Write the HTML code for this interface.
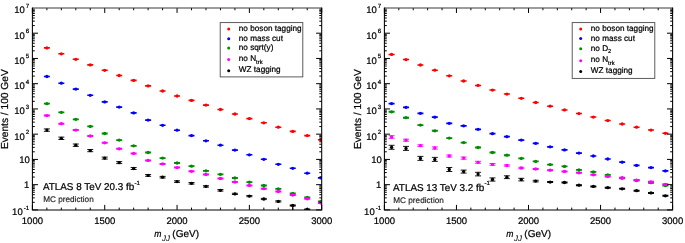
<!DOCTYPE html><html><head><meta charset="utf-8"><style>html,body{margin:0;padding:0;background:#fff;}svg{display:block;filter:blur(0.35px);}text{text-rendering:geometricPrecision;font-family:"Liberation Sans",sans-serif;fill:#000;stroke:#000;stroke-width:0.22px;}</style></head><body>
<svg width="685" height="243" viewBox="0 0 685 243">
<rect width="685" height="243" fill="#fff"/>
<clipPath id="clip0"><rect x="32.4" y="7.95" width="289.3" height="201.95000000000002"/></clipPath>
<g clip-path="url(#clip0)">
<line x1="43.87" y1="47.90" x2="49.87" y2="47.90" stroke="#ff0000" stroke-width="1.60"/><circle cx="46.87" cy="47.90" r="1.65" fill="#ff0000"/>
<line x1="58.33" y1="53.80" x2="64.33" y2="53.80" stroke="#ff0000" stroke-width="1.60"/><circle cx="61.33" cy="53.80" r="1.65" fill="#ff0000"/>
<line x1="72.80" y1="59.30" x2="78.80" y2="59.30" stroke="#ff0000" stroke-width="1.60"/><circle cx="75.80" cy="59.30" r="1.65" fill="#ff0000"/>
<line x1="87.26" y1="64.90" x2="93.26" y2="64.90" stroke="#ff0000" stroke-width="1.60"/><circle cx="90.26" cy="64.90" r="1.65" fill="#ff0000"/>
<line x1="101.72" y1="70.30" x2="107.72" y2="70.30" stroke="#ff0000" stroke-width="1.60"/><circle cx="104.72" cy="70.30" r="1.65" fill="#ff0000"/>
<line x1="116.19" y1="75.50" x2="122.19" y2="75.50" stroke="#ff0000" stroke-width="1.60"/><circle cx="119.19" cy="75.50" r="1.65" fill="#ff0000"/>
<line x1="130.66" y1="80.40" x2="136.66" y2="80.40" stroke="#ff0000" stroke-width="1.60"/><circle cx="133.66" cy="80.40" r="1.65" fill="#ff0000"/>
<line x1="145.12" y1="85.90" x2="151.12" y2="85.90" stroke="#ff0000" stroke-width="1.60"/><circle cx="148.12" cy="85.90" r="1.65" fill="#ff0000"/>
<line x1="159.59" y1="91.00" x2="165.59" y2="91.00" stroke="#ff0000" stroke-width="1.60"/><circle cx="162.59" cy="91.00" r="1.65" fill="#ff0000"/>
<line x1="174.05" y1="96.00" x2="180.05" y2="96.00" stroke="#ff0000" stroke-width="1.60"/><circle cx="177.05" cy="96.00" r="1.65" fill="#ff0000"/>
<line x1="188.52" y1="100.40" x2="194.52" y2="100.40" stroke="#ff0000" stroke-width="1.60"/><circle cx="191.52" cy="100.40" r="1.65" fill="#ff0000"/>
<line x1="202.98" y1="105.10" x2="208.98" y2="105.10" stroke="#ff0000" stroke-width="1.60"/><circle cx="205.98" cy="105.10" r="1.65" fill="#ff0000"/>
<line x1="217.45" y1="109.50" x2="223.45" y2="109.50" stroke="#ff0000" stroke-width="1.60"/><circle cx="220.45" cy="109.50" r="1.65" fill="#ff0000"/>
<line x1="231.91" y1="114.00" x2="237.91" y2="114.00" stroke="#ff0000" stroke-width="1.60"/><circle cx="234.91" cy="114.00" r="1.65" fill="#ff0000"/>
<line x1="246.38" y1="118.60" x2="252.38" y2="118.60" stroke="#ff0000" stroke-width="1.60"/><circle cx="249.38" cy="118.60" r="1.65" fill="#ff0000"/>
<line x1="260.84" y1="122.80" x2="266.84" y2="122.80" stroke="#ff0000" stroke-width="1.60"/><circle cx="263.84" cy="122.80" r="1.65" fill="#ff0000"/>
<line x1="275.31" y1="127.20" x2="281.31" y2="127.20" stroke="#ff0000" stroke-width="1.60"/><circle cx="278.31" cy="127.20" r="1.65" fill="#ff0000"/>
<line x1="289.77" y1="131.40" x2="295.77" y2="131.40" stroke="#ff0000" stroke-width="1.60"/><circle cx="292.77" cy="131.40" r="1.65" fill="#ff0000"/>
<line x1="304.23" y1="135.60" x2="310.23" y2="135.60" stroke="#ff0000" stroke-width="1.60"/><circle cx="307.23" cy="135.60" r="1.65" fill="#ff0000"/>
<line x1="317.90" y1="139.80" x2="323.90" y2="139.80" stroke="#ff0000" stroke-width="1.60"/><circle cx="320.90" cy="139.80" r="1.65" fill="#ff0000"/>
<line x1="43.87" y1="76.50" x2="49.87" y2="76.50" stroke="#0000ff" stroke-width="1.60"/><circle cx="46.87" cy="76.50" r="1.65" fill="#0000ff"/>
<line x1="58.33" y1="83.20" x2="64.33" y2="83.20" stroke="#0000ff" stroke-width="1.60"/><circle cx="61.33" cy="83.20" r="1.65" fill="#0000ff"/>
<line x1="72.80" y1="89.10" x2="78.80" y2="89.10" stroke="#0000ff" stroke-width="1.60"/><circle cx="75.80" cy="89.10" r="1.65" fill="#0000ff"/>
<line x1="87.26" y1="95.30" x2="93.26" y2="95.30" stroke="#0000ff" stroke-width="1.60"/><circle cx="90.26" cy="95.30" r="1.65" fill="#0000ff"/>
<line x1="101.72" y1="101.90" x2="107.72" y2="101.90" stroke="#0000ff" stroke-width="1.60"/><circle cx="104.72" cy="101.90" r="1.65" fill="#0000ff"/>
<line x1="116.19" y1="107.10" x2="122.19" y2="107.10" stroke="#0000ff" stroke-width="1.60"/><circle cx="119.19" cy="107.10" r="1.65" fill="#0000ff"/>
<line x1="130.66" y1="112.90" x2="136.66" y2="112.90" stroke="#0000ff" stroke-width="1.60"/><circle cx="133.66" cy="112.90" r="1.65" fill="#0000ff"/>
<line x1="145.12" y1="120.10" x2="151.12" y2="120.10" stroke="#0000ff" stroke-width="1.60"/><circle cx="148.12" cy="120.10" r="1.65" fill="#0000ff"/>
<line x1="159.59" y1="125.30" x2="165.59" y2="125.30" stroke="#0000ff" stroke-width="1.60"/><circle cx="162.59" cy="125.30" r="1.65" fill="#0000ff"/>
<line x1="174.05" y1="130.20" x2="180.05" y2="130.20" stroke="#0000ff" stroke-width="1.60"/><circle cx="177.05" cy="130.20" r="1.65" fill="#0000ff"/>
<line x1="188.52" y1="135.60" x2="194.52" y2="135.60" stroke="#0000ff" stroke-width="1.60"/><circle cx="191.52" cy="135.60" r="1.65" fill="#0000ff"/>
<line x1="202.98" y1="140.80" x2="208.98" y2="140.80" stroke="#0000ff" stroke-width="1.60"/><circle cx="205.98" cy="140.80" r="1.65" fill="#0000ff"/>
<line x1="217.45" y1="145.20" x2="223.45" y2="145.20" stroke="#0000ff" stroke-width="1.60"/><circle cx="220.45" cy="145.20" r="1.65" fill="#0000ff"/>
<line x1="231.91" y1="150.10" x2="237.91" y2="150.10" stroke="#0000ff" stroke-width="1.60"/><circle cx="234.91" cy="150.10" r="1.65" fill="#0000ff"/>
<line x1="246.38" y1="154.80" x2="252.38" y2="154.80" stroke="#0000ff" stroke-width="1.60"/><circle cx="249.38" cy="154.80" r="1.65" fill="#0000ff"/>
<line x1="260.84" y1="159.30" x2="266.84" y2="159.30" stroke="#0000ff" stroke-width="1.60"/><circle cx="263.84" cy="159.30" r="1.65" fill="#0000ff"/>
<line x1="275.31" y1="164.30" x2="281.31" y2="164.30" stroke="#0000ff" stroke-width="1.60"/><circle cx="278.31" cy="164.30" r="1.65" fill="#0000ff"/>
<line x1="289.77" y1="168.30" x2="295.77" y2="168.30" stroke="#0000ff" stroke-width="1.60"/><circle cx="292.77" cy="168.30" r="1.65" fill="#0000ff"/>
<line x1="304.23" y1="173.20" x2="310.23" y2="173.20" stroke="#0000ff" stroke-width="1.60"/><circle cx="307.23" cy="173.20" r="1.65" fill="#0000ff"/>
<line x1="317.90" y1="177.90" x2="323.90" y2="177.90" stroke="#0000ff" stroke-width="1.60"/><circle cx="320.90" cy="177.90" r="1.65" fill="#0000ff"/>
<line x1="43.87" y1="103.70" x2="49.87" y2="103.70" stroke="#008c00" stroke-width="1.80"/><circle cx="46.87" cy="103.70" r="1.65" fill="#008c00"/>
<line x1="58.33" y1="112.30" x2="64.33" y2="112.30" stroke="#008c00" stroke-width="1.80"/><circle cx="61.33" cy="112.30" r="1.65" fill="#008c00"/>
<line x1="72.80" y1="119.30" x2="78.80" y2="119.30" stroke="#008c00" stroke-width="1.80"/><circle cx="75.80" cy="119.30" r="1.65" fill="#008c00"/>
<line x1="87.26" y1="126.40" x2="93.26" y2="126.40" stroke="#008c00" stroke-width="1.80"/><circle cx="90.26" cy="126.40" r="1.65" fill="#008c00"/>
<line x1="101.72" y1="133.50" x2="107.72" y2="133.50" stroke="#008c00" stroke-width="1.80"/><circle cx="104.72" cy="133.50" r="1.65" fill="#008c00"/>
<line x1="116.19" y1="140.10" x2="122.19" y2="140.10" stroke="#008c00" stroke-width="1.80"/><circle cx="119.19" cy="140.10" r="1.65" fill="#008c00"/>
<line x1="130.66" y1="145.80" x2="136.66" y2="145.80" stroke="#008c00" stroke-width="1.80"/><circle cx="133.66" cy="145.80" r="1.65" fill="#008c00"/>
<line x1="145.12" y1="152.50" x2="151.12" y2="152.50" stroke="#008c00" stroke-width="1.80"/><circle cx="148.12" cy="152.50" r="1.65" fill="#008c00"/>
<line x1="159.59" y1="158.10" x2="165.59" y2="158.10" stroke="#008c00" stroke-width="1.80"/><circle cx="162.59" cy="158.10" r="1.65" fill="#008c00"/>
<line x1="174.05" y1="163.00" x2="180.05" y2="163.00" stroke="#008c00" stroke-width="1.80"/><circle cx="177.05" cy="163.00" r="1.65" fill="#008c00"/>
<line x1="188.52" y1="166.20" x2="194.52" y2="166.20" stroke="#008c00" stroke-width="1.80"/><circle cx="191.52" cy="166.20" r="1.65" fill="#008c00"/>
<line x1="202.98" y1="170.80" x2="208.98" y2="170.80" stroke="#008c00" stroke-width="1.80"/><circle cx="205.98" cy="170.80" r="1.65" fill="#008c00"/>
<line x1="217.45" y1="174.30" x2="223.45" y2="174.30" stroke="#008c00" stroke-width="1.80"/><circle cx="220.45" cy="174.30" r="1.65" fill="#008c00"/>
<line x1="231.91" y1="178.00" x2="237.91" y2="178.00" stroke="#008c00" stroke-width="1.80"/><circle cx="234.91" cy="178.00" r="1.65" fill="#008c00"/>
<line x1="246.38" y1="182.20" x2="252.38" y2="182.20" stroke="#008c00" stroke-width="1.80"/><circle cx="249.38" cy="182.20" r="1.65" fill="#008c00"/>
<line x1="260.84" y1="185.50" x2="266.84" y2="185.50" stroke="#008c00" stroke-width="1.80"/><circle cx="263.84" cy="185.50" r="1.65" fill="#008c00"/>
<line x1="275.31" y1="188.90" x2="281.31" y2="188.90" stroke="#008c00" stroke-width="1.80"/><circle cx="278.31" cy="188.90" r="1.65" fill="#008c00"/>
<line x1="289.77" y1="193.40" x2="295.77" y2="193.40" stroke="#008c00" stroke-width="1.80"/><circle cx="292.77" cy="193.40" r="1.65" fill="#008c00"/>
<line x1="304.23" y1="197.30" x2="310.23" y2="197.30" stroke="#008c00" stroke-width="1.80"/><circle cx="307.23" cy="197.30" r="1.65" fill="#008c00"/>
<line x1="317.90" y1="201.50" x2="323.90" y2="201.50" stroke="#008c00" stroke-width="1.80"/><circle cx="320.90" cy="201.50" r="1.65" fill="#008c00"/>
<line x1="43.87" y1="115.60" x2="49.87" y2="115.60" stroke="#ff00ff" stroke-width="2.00"/><circle cx="46.87" cy="115.60" r="1.65" fill="#ff00ff"/>
<line x1="58.33" y1="123.70" x2="64.33" y2="123.70" stroke="#ff00ff" stroke-width="2.00"/><circle cx="61.33" cy="123.70" r="1.65" fill="#ff00ff"/>
<line x1="72.80" y1="130.10" x2="78.80" y2="130.10" stroke="#ff00ff" stroke-width="2.00"/><circle cx="75.80" cy="130.10" r="1.65" fill="#ff00ff"/>
<line x1="87.26" y1="136.00" x2="93.26" y2="136.00" stroke="#ff00ff" stroke-width="2.00"/><circle cx="90.26" cy="136.00" r="1.65" fill="#ff00ff"/>
<line x1="101.72" y1="142.80" x2="107.72" y2="142.80" stroke="#ff00ff" stroke-width="2.00"/><circle cx="104.72" cy="142.80" r="1.65" fill="#ff00ff"/>
<line x1="116.19" y1="148.80" x2="122.19" y2="148.80" stroke="#ff00ff" stroke-width="2.00"/><circle cx="119.19" cy="148.80" r="1.65" fill="#ff00ff"/>
<line x1="130.66" y1="153.40" x2="136.66" y2="153.40" stroke="#ff00ff" stroke-width="2.00"/><circle cx="133.66" cy="153.40" r="1.65" fill="#ff00ff"/>
<line x1="145.12" y1="160.40" x2="151.12" y2="160.40" stroke="#ff00ff" stroke-width="2.00"/><circle cx="148.12" cy="160.40" r="1.65" fill="#ff00ff"/>
<line x1="159.59" y1="163.90" x2="165.59" y2="163.90" stroke="#ff00ff" stroke-width="2.00"/><circle cx="162.59" cy="163.90" r="1.65" fill="#ff00ff"/>
<line x1="174.05" y1="167.60" x2="180.05" y2="167.60" stroke="#ff00ff" stroke-width="2.00"/><circle cx="177.05" cy="167.60" r="1.65" fill="#ff00ff"/>
<line x1="188.52" y1="171.30" x2="194.52" y2="171.30" stroke="#ff00ff" stroke-width="2.00"/><circle cx="191.52" cy="171.30" r="1.65" fill="#ff00ff"/>
<line x1="202.98" y1="174.50" x2="208.98" y2="174.50" stroke="#ff00ff" stroke-width="2.00"/><circle cx="205.98" cy="174.50" r="1.65" fill="#ff00ff"/>
<line x1="217.45" y1="178.50" x2="223.45" y2="178.50" stroke="#ff00ff" stroke-width="2.00"/><circle cx="220.45" cy="178.50" r="1.65" fill="#ff00ff"/>
<line x1="231.91" y1="182.00" x2="237.91" y2="182.00" stroke="#ff00ff" stroke-width="2.00"/><circle cx="234.91" cy="182.00" r="1.65" fill="#ff00ff"/>
<line x1="246.38" y1="185.40" x2="252.38" y2="185.40" stroke="#ff00ff" stroke-width="2.00"/><circle cx="249.38" cy="185.40" r="1.65" fill="#ff00ff"/>
<line x1="260.84" y1="188.70" x2="266.84" y2="188.70" stroke="#ff00ff" stroke-width="2.00"/><circle cx="263.84" cy="188.70" r="1.65" fill="#ff00ff"/>
<line x1="275.31" y1="191.50" x2="281.31" y2="191.50" stroke="#ff00ff" stroke-width="2.00"/><circle cx="278.31" cy="191.50" r="1.65" fill="#ff00ff"/>
<line x1="289.77" y1="195.00" x2="295.77" y2="195.00" stroke="#ff00ff" stroke-width="2.00"/><circle cx="292.77" cy="195.00" r="1.65" fill="#ff00ff"/>
<line x1="304.23" y1="198.80" x2="310.23" y2="198.80" stroke="#ff00ff" stroke-width="2.00"/><circle cx="307.23" cy="198.80" r="1.65" fill="#ff00ff"/>
<line x1="317.90" y1="203.10" x2="323.90" y2="203.10" stroke="#ff00ff" stroke-width="2.00"/><circle cx="320.90" cy="203.10" r="1.65" fill="#ff00ff"/>
<path d="M43.87 128.90H49.87M43.87 131.30H49.87M46.87 128.90V131.30" stroke="#000000" stroke-width="0.9" fill="none"/><line x1="46.87" y1="129.30" x2="46.87" y2="130.90" stroke="#000000" stroke-width="1.6"/><circle cx="46.87" cy="130.10" r="1.65" fill="#000000"/>
<path d="M58.33 137.10H64.33M58.33 139.50H64.33M61.33 137.10V139.50" stroke="#000000" stroke-width="0.9" fill="none"/><line x1="61.33" y1="137.50" x2="61.33" y2="139.10" stroke="#000000" stroke-width="1.6"/><circle cx="61.33" cy="138.30" r="1.65" fill="#000000"/>
<path d="M72.80 144.00H78.80M72.80 146.40H78.80M75.80 144.00V146.40" stroke="#000000" stroke-width="0.9" fill="none"/><line x1="75.80" y1="144.40" x2="75.80" y2="146.00" stroke="#000000" stroke-width="1.6"/><circle cx="75.80" cy="145.20" r="1.65" fill="#000000"/>
<path d="M87.26 149.50H93.26M87.26 151.70H93.26M90.26 149.50V151.70" stroke="#000000" stroke-width="0.9" fill="none"/><line x1="90.26" y1="149.90" x2="90.26" y2="151.30" stroke="#000000" stroke-width="1.6"/><circle cx="90.26" cy="150.60" r="1.65" fill="#000000"/>
<path d="M101.72 157.10H107.72M101.72 159.10H107.72M104.72 157.10V159.10" stroke="#000000" stroke-width="0.9" fill="none"/><line x1="104.72" y1="157.50" x2="104.72" y2="158.70" stroke="#000000" stroke-width="1.6"/><circle cx="104.72" cy="158.10" r="1.65" fill="#000000"/>
<path d="M116.19 161.60H122.19M116.19 163.60H122.19M119.19 161.60V163.60" stroke="#000000" stroke-width="0.9" fill="none"/><line x1="119.19" y1="162.00" x2="119.19" y2="163.20" stroke="#000000" stroke-width="1.6"/><circle cx="119.19" cy="162.60" r="1.65" fill="#000000"/>
<path d="M130.66 167.50H136.66M130.66 169.50H136.66M133.66 167.50V169.50" stroke="#000000" stroke-width="0.9" fill="none"/><line x1="133.66" y1="167.90" x2="133.66" y2="169.10" stroke="#000000" stroke-width="1.6"/><circle cx="133.66" cy="168.50" r="1.65" fill="#000000"/>
<path d="M145.12 174.50H151.12M145.12 176.30H151.12M148.12 174.50V176.30" stroke="#000000" stroke-width="0.9" fill="none"/><line x1="148.12" y1="174.90" x2="148.12" y2="175.90" stroke="#000000" stroke-width="1.6"/><circle cx="148.12" cy="175.40" r="1.65" fill="#000000"/>
<path d="M159.59 176.40H165.59M159.59 178.00H165.59M162.59 176.40V178.00" stroke="#000000" stroke-width="0.9" fill="none"/><line x1="162.59" y1="176.80" x2="162.59" y2="177.60" stroke="#000000" stroke-width="1.6"/><circle cx="162.59" cy="177.20" r="1.65" fill="#000000"/>
<path d="M174.05 180.80H180.05M174.05 182.40H180.05M177.05 180.80V182.40" stroke="#000000" stroke-width="0.9" fill="none"/><line x1="177.05" y1="181.20" x2="177.05" y2="182.00" stroke="#000000" stroke-width="1.6"/><circle cx="177.05" cy="181.60" r="1.65" fill="#000000"/>
<path d="M188.52 182.50H194.52M188.52 184.10H194.52M191.52 182.50V184.10" stroke="#000000" stroke-width="0.9" fill="none"/><line x1="191.52" y1="182.90" x2="191.52" y2="183.70" stroke="#000000" stroke-width="1.6"/><circle cx="191.52" cy="183.30" r="1.65" fill="#000000"/>
<path d="M202.98 185.70H208.98M202.98 187.10H208.98M205.98 185.70V187.10" stroke="#000000" stroke-width="0.9" fill="none"/><line x1="205.98" y1="186.10" x2="205.98" y2="186.70" stroke="#000000" stroke-width="1.6"/><circle cx="205.98" cy="186.40" r="1.65" fill="#000000"/>
<path d="M217.45 189.50H223.45M217.45 191.10H223.45M220.45 189.50V191.10" stroke="#000000" stroke-width="0.9" fill="none"/><line x1="220.45" y1="189.90" x2="220.45" y2="190.70" stroke="#000000" stroke-width="1.6"/><circle cx="220.45" cy="190.30" r="1.65" fill="#000000"/>
<path d="M231.91 193.30H237.91M231.91 194.50H237.91M234.91 193.30V194.50" stroke="#000000" stroke-width="0.9" fill="none"/><line x1="234.91" y1="193.70" x2="234.91" y2="194.10" stroke="#000000" stroke-width="1.6"/><circle cx="234.91" cy="193.90" r="1.65" fill="#000000"/>
<path d="M246.38 195.50H252.38M246.38 196.70H252.38M249.38 195.50V196.70" stroke="#000000" stroke-width="0.9" fill="none"/><line x1="249.38" y1="195.90" x2="249.38" y2="196.30" stroke="#000000" stroke-width="1.6"/><circle cx="249.38" cy="196.10" r="1.65" fill="#000000"/>
<path d="M260.84 198.40H266.84M260.84 199.60H266.84M263.84 198.40V199.60" stroke="#000000" stroke-width="0.9" fill="none"/><line x1="263.84" y1="198.80" x2="263.84" y2="199.20" stroke="#000000" stroke-width="1.6"/><circle cx="263.84" cy="199.00" r="1.65" fill="#000000"/>
<path d="M275.31 200.80H281.31M275.31 202.00H281.31M278.31 200.80V202.00" stroke="#000000" stroke-width="0.9" fill="none"/><line x1="278.31" y1="201.20" x2="278.31" y2="201.60" stroke="#000000" stroke-width="1.6"/><circle cx="278.31" cy="201.40" r="1.65" fill="#000000"/>
<line x1="289.77" y1="205.50" x2="295.77" y2="205.50" stroke="#000000" stroke-width="2.00"/><circle cx="292.77" cy="205.50" r="1.65" fill="#000000"/>
<line x1="292.77" y1="205.50" x2="292.77" y2="212" stroke="#000" stroke-width="1.1"/>
<line x1="304.23" y1="209.50" x2="310.23" y2="209.50" stroke="#000000" stroke-width="2.00"/><circle cx="307.23" cy="209.50" r="1.65" fill="#000000"/>
</g>
<line x1="32.40" y1="209.9" x2="32.40" y2="204.9" stroke="#000" stroke-width="1"/>
<line x1="32.40" y1="7.95" x2="32.40" y2="12.95" stroke="#000" stroke-width="1"/>
<line x1="46.87" y1="209.9" x2="46.87" y2="207.6" stroke="#000" stroke-width="1"/>
<line x1="46.87" y1="7.95" x2="46.87" y2="10.25" stroke="#000" stroke-width="1"/>
<line x1="61.33" y1="209.9" x2="61.33" y2="207.6" stroke="#000" stroke-width="1"/>
<line x1="61.33" y1="7.95" x2="61.33" y2="10.25" stroke="#000" stroke-width="1"/>
<line x1="75.80" y1="209.9" x2="75.80" y2="207.6" stroke="#000" stroke-width="1"/>
<line x1="75.80" y1="7.95" x2="75.80" y2="10.25" stroke="#000" stroke-width="1"/>
<line x1="90.26" y1="209.9" x2="90.26" y2="207.6" stroke="#000" stroke-width="1"/>
<line x1="90.26" y1="7.95" x2="90.26" y2="10.25" stroke="#000" stroke-width="1"/>
<line x1="104.72" y1="209.9" x2="104.72" y2="204.9" stroke="#000" stroke-width="1"/>
<line x1="104.72" y1="7.95" x2="104.72" y2="12.95" stroke="#000" stroke-width="1"/>
<line x1="119.19" y1="209.9" x2="119.19" y2="207.6" stroke="#000" stroke-width="1"/>
<line x1="119.19" y1="7.95" x2="119.19" y2="10.25" stroke="#000" stroke-width="1"/>
<line x1="133.66" y1="209.9" x2="133.66" y2="207.6" stroke="#000" stroke-width="1"/>
<line x1="133.66" y1="7.95" x2="133.66" y2="10.25" stroke="#000" stroke-width="1"/>
<line x1="148.12" y1="209.9" x2="148.12" y2="207.6" stroke="#000" stroke-width="1"/>
<line x1="148.12" y1="7.95" x2="148.12" y2="10.25" stroke="#000" stroke-width="1"/>
<line x1="162.59" y1="209.9" x2="162.59" y2="207.6" stroke="#000" stroke-width="1"/>
<line x1="162.59" y1="7.95" x2="162.59" y2="10.25" stroke="#000" stroke-width="1"/>
<line x1="177.05" y1="209.9" x2="177.05" y2="204.9" stroke="#000" stroke-width="1"/>
<line x1="177.05" y1="7.95" x2="177.05" y2="12.95" stroke="#000" stroke-width="1"/>
<line x1="191.52" y1="209.9" x2="191.52" y2="207.6" stroke="#000" stroke-width="1"/>
<line x1="191.52" y1="7.95" x2="191.52" y2="10.25" stroke="#000" stroke-width="1"/>
<line x1="205.98" y1="209.9" x2="205.98" y2="207.6" stroke="#000" stroke-width="1"/>
<line x1="205.98" y1="7.95" x2="205.98" y2="10.25" stroke="#000" stroke-width="1"/>
<line x1="220.45" y1="209.9" x2="220.45" y2="207.6" stroke="#000" stroke-width="1"/>
<line x1="220.45" y1="7.95" x2="220.45" y2="10.25" stroke="#000" stroke-width="1"/>
<line x1="234.91" y1="209.9" x2="234.91" y2="207.6" stroke="#000" stroke-width="1"/>
<line x1="234.91" y1="7.95" x2="234.91" y2="10.25" stroke="#000" stroke-width="1"/>
<line x1="249.38" y1="209.9" x2="249.38" y2="204.9" stroke="#000" stroke-width="1"/>
<line x1="249.38" y1="7.95" x2="249.38" y2="12.95" stroke="#000" stroke-width="1"/>
<line x1="263.84" y1="209.9" x2="263.84" y2="207.6" stroke="#000" stroke-width="1"/>
<line x1="263.84" y1="7.95" x2="263.84" y2="10.25" stroke="#000" stroke-width="1"/>
<line x1="278.31" y1="209.9" x2="278.31" y2="207.6" stroke="#000" stroke-width="1"/>
<line x1="278.31" y1="7.95" x2="278.31" y2="10.25" stroke="#000" stroke-width="1"/>
<line x1="292.77" y1="209.9" x2="292.77" y2="207.6" stroke="#000" stroke-width="1"/>
<line x1="292.77" y1="7.95" x2="292.77" y2="10.25" stroke="#000" stroke-width="1"/>
<line x1="307.23" y1="209.9" x2="307.23" y2="207.6" stroke="#000" stroke-width="1"/>
<line x1="307.23" y1="7.95" x2="307.23" y2="10.25" stroke="#000" stroke-width="1"/>
<line x1="321.70" y1="209.9" x2="321.70" y2="204.9" stroke="#000" stroke-width="1"/>
<line x1="321.70" y1="7.95" x2="321.70" y2="12.95" stroke="#000" stroke-width="1"/>
<line x1="32.4" y1="209.90" x2="38.0" y2="209.90" stroke="#000" stroke-width="1"/>
<line x1="321.7" y1="209.90" x2="316.09999999999997" y2="209.90" stroke="#000" stroke-width="1"/>
<line x1="32.4" y1="202.30" x2="34.8" y2="202.30" stroke="#000" stroke-width="1"/>
<line x1="321.7" y1="202.30" x2="319.3" y2="202.30" stroke="#000" stroke-width="1"/>
<line x1="32.4" y1="197.86" x2="34.8" y2="197.86" stroke="#000" stroke-width="1"/>
<line x1="321.7" y1="197.86" x2="319.3" y2="197.86" stroke="#000" stroke-width="1"/>
<line x1="32.4" y1="194.70" x2="34.8" y2="194.70" stroke="#000" stroke-width="1"/>
<line x1="321.7" y1="194.70" x2="319.3" y2="194.70" stroke="#000" stroke-width="1"/>
<line x1="32.4" y1="192.26" x2="34.8" y2="192.26" stroke="#000" stroke-width="1"/>
<line x1="321.7" y1="192.26" x2="319.3" y2="192.26" stroke="#000" stroke-width="1"/>
<line x1="32.4" y1="190.26" x2="34.8" y2="190.26" stroke="#000" stroke-width="1"/>
<line x1="321.7" y1="190.26" x2="319.3" y2="190.26" stroke="#000" stroke-width="1"/>
<line x1="32.4" y1="188.57" x2="34.8" y2="188.57" stroke="#000" stroke-width="1"/>
<line x1="321.7" y1="188.57" x2="319.3" y2="188.57" stroke="#000" stroke-width="1"/>
<line x1="32.4" y1="187.10" x2="34.8" y2="187.10" stroke="#000" stroke-width="1"/>
<line x1="321.7" y1="187.10" x2="319.3" y2="187.10" stroke="#000" stroke-width="1"/>
<line x1="32.4" y1="185.81" x2="34.8" y2="185.81" stroke="#000" stroke-width="1"/>
<line x1="321.7" y1="185.81" x2="319.3" y2="185.81" stroke="#000" stroke-width="1"/>
<line x1="32.4" y1="184.66" x2="38.0" y2="184.66" stroke="#000" stroke-width="1"/>
<line x1="321.7" y1="184.66" x2="316.09999999999997" y2="184.66" stroke="#000" stroke-width="1"/>
<line x1="32.4" y1="177.06" x2="34.8" y2="177.06" stroke="#000" stroke-width="1"/>
<line x1="321.7" y1="177.06" x2="319.3" y2="177.06" stroke="#000" stroke-width="1"/>
<line x1="32.4" y1="172.61" x2="34.8" y2="172.61" stroke="#000" stroke-width="1"/>
<line x1="321.7" y1="172.61" x2="319.3" y2="172.61" stroke="#000" stroke-width="1"/>
<line x1="32.4" y1="169.46" x2="34.8" y2="169.46" stroke="#000" stroke-width="1"/>
<line x1="321.7" y1="169.46" x2="319.3" y2="169.46" stroke="#000" stroke-width="1"/>
<line x1="32.4" y1="167.01" x2="34.8" y2="167.01" stroke="#000" stroke-width="1"/>
<line x1="321.7" y1="167.01" x2="319.3" y2="167.01" stroke="#000" stroke-width="1"/>
<line x1="32.4" y1="165.01" x2="34.8" y2="165.01" stroke="#000" stroke-width="1"/>
<line x1="321.7" y1="165.01" x2="319.3" y2="165.01" stroke="#000" stroke-width="1"/>
<line x1="32.4" y1="163.32" x2="34.8" y2="163.32" stroke="#000" stroke-width="1"/>
<line x1="321.7" y1="163.32" x2="319.3" y2="163.32" stroke="#000" stroke-width="1"/>
<line x1="32.4" y1="161.86" x2="34.8" y2="161.86" stroke="#000" stroke-width="1"/>
<line x1="321.7" y1="161.86" x2="319.3" y2="161.86" stroke="#000" stroke-width="1"/>
<line x1="32.4" y1="160.57" x2="34.8" y2="160.57" stroke="#000" stroke-width="1"/>
<line x1="321.7" y1="160.57" x2="319.3" y2="160.57" stroke="#000" stroke-width="1"/>
<line x1="32.4" y1="159.41" x2="38.0" y2="159.41" stroke="#000" stroke-width="1"/>
<line x1="321.7" y1="159.41" x2="316.09999999999997" y2="159.41" stroke="#000" stroke-width="1"/>
<line x1="32.4" y1="151.81" x2="34.8" y2="151.81" stroke="#000" stroke-width="1"/>
<line x1="321.7" y1="151.81" x2="319.3" y2="151.81" stroke="#000" stroke-width="1"/>
<line x1="32.4" y1="147.37" x2="34.8" y2="147.37" stroke="#000" stroke-width="1"/>
<line x1="321.7" y1="147.37" x2="319.3" y2="147.37" stroke="#000" stroke-width="1"/>
<line x1="32.4" y1="144.21" x2="34.8" y2="144.21" stroke="#000" stroke-width="1"/>
<line x1="321.7" y1="144.21" x2="319.3" y2="144.21" stroke="#000" stroke-width="1"/>
<line x1="32.4" y1="141.77" x2="34.8" y2="141.77" stroke="#000" stroke-width="1"/>
<line x1="321.7" y1="141.77" x2="319.3" y2="141.77" stroke="#000" stroke-width="1"/>
<line x1="32.4" y1="139.77" x2="34.8" y2="139.77" stroke="#000" stroke-width="1"/>
<line x1="321.7" y1="139.77" x2="319.3" y2="139.77" stroke="#000" stroke-width="1"/>
<line x1="32.4" y1="138.08" x2="34.8" y2="138.08" stroke="#000" stroke-width="1"/>
<line x1="321.7" y1="138.08" x2="319.3" y2="138.08" stroke="#000" stroke-width="1"/>
<line x1="32.4" y1="136.62" x2="34.8" y2="136.62" stroke="#000" stroke-width="1"/>
<line x1="321.7" y1="136.62" x2="319.3" y2="136.62" stroke="#000" stroke-width="1"/>
<line x1="32.4" y1="135.32" x2="34.8" y2="135.32" stroke="#000" stroke-width="1"/>
<line x1="321.7" y1="135.32" x2="319.3" y2="135.32" stroke="#000" stroke-width="1"/>
<line x1="32.4" y1="134.17" x2="38.0" y2="134.17" stroke="#000" stroke-width="1"/>
<line x1="321.7" y1="134.17" x2="316.09999999999997" y2="134.17" stroke="#000" stroke-width="1"/>
<line x1="32.4" y1="126.57" x2="34.8" y2="126.57" stroke="#000" stroke-width="1"/>
<line x1="321.7" y1="126.57" x2="319.3" y2="126.57" stroke="#000" stroke-width="1"/>
<line x1="32.4" y1="122.12" x2="34.8" y2="122.12" stroke="#000" stroke-width="1"/>
<line x1="321.7" y1="122.12" x2="319.3" y2="122.12" stroke="#000" stroke-width="1"/>
<line x1="32.4" y1="118.97" x2="34.8" y2="118.97" stroke="#000" stroke-width="1"/>
<line x1="321.7" y1="118.97" x2="319.3" y2="118.97" stroke="#000" stroke-width="1"/>
<line x1="32.4" y1="116.52" x2="34.8" y2="116.52" stroke="#000" stroke-width="1"/>
<line x1="321.7" y1="116.52" x2="319.3" y2="116.52" stroke="#000" stroke-width="1"/>
<line x1="32.4" y1="114.53" x2="34.8" y2="114.53" stroke="#000" stroke-width="1"/>
<line x1="321.7" y1="114.53" x2="319.3" y2="114.53" stroke="#000" stroke-width="1"/>
<line x1="32.4" y1="112.84" x2="34.8" y2="112.84" stroke="#000" stroke-width="1"/>
<line x1="321.7" y1="112.84" x2="319.3" y2="112.84" stroke="#000" stroke-width="1"/>
<line x1="32.4" y1="111.37" x2="34.8" y2="111.37" stroke="#000" stroke-width="1"/>
<line x1="321.7" y1="111.37" x2="319.3" y2="111.37" stroke="#000" stroke-width="1"/>
<line x1="32.4" y1="110.08" x2="34.8" y2="110.08" stroke="#000" stroke-width="1"/>
<line x1="321.7" y1="110.08" x2="319.3" y2="110.08" stroke="#000" stroke-width="1"/>
<line x1="32.4" y1="108.93" x2="38.0" y2="108.93" stroke="#000" stroke-width="1"/>
<line x1="321.7" y1="108.93" x2="316.09999999999997" y2="108.93" stroke="#000" stroke-width="1"/>
<line x1="32.4" y1="101.33" x2="34.8" y2="101.33" stroke="#000" stroke-width="1"/>
<line x1="321.7" y1="101.33" x2="319.3" y2="101.33" stroke="#000" stroke-width="1"/>
<line x1="32.4" y1="96.88" x2="34.8" y2="96.88" stroke="#000" stroke-width="1"/>
<line x1="321.7" y1="96.88" x2="319.3" y2="96.88" stroke="#000" stroke-width="1"/>
<line x1="32.4" y1="93.73" x2="34.8" y2="93.73" stroke="#000" stroke-width="1"/>
<line x1="321.7" y1="93.73" x2="319.3" y2="93.73" stroke="#000" stroke-width="1"/>
<line x1="32.4" y1="91.28" x2="34.8" y2="91.28" stroke="#000" stroke-width="1"/>
<line x1="321.7" y1="91.28" x2="319.3" y2="91.28" stroke="#000" stroke-width="1"/>
<line x1="32.4" y1="89.28" x2="34.8" y2="89.28" stroke="#000" stroke-width="1"/>
<line x1="321.7" y1="89.28" x2="319.3" y2="89.28" stroke="#000" stroke-width="1"/>
<line x1="32.4" y1="87.59" x2="34.8" y2="87.59" stroke="#000" stroke-width="1"/>
<line x1="321.7" y1="87.59" x2="319.3" y2="87.59" stroke="#000" stroke-width="1"/>
<line x1="32.4" y1="86.13" x2="34.8" y2="86.13" stroke="#000" stroke-width="1"/>
<line x1="321.7" y1="86.13" x2="319.3" y2="86.13" stroke="#000" stroke-width="1"/>
<line x1="32.4" y1="84.84" x2="34.8" y2="84.84" stroke="#000" stroke-width="1"/>
<line x1="321.7" y1="84.84" x2="319.3" y2="84.84" stroke="#000" stroke-width="1"/>
<line x1="32.4" y1="83.68" x2="38.0" y2="83.68" stroke="#000" stroke-width="1"/>
<line x1="321.7" y1="83.68" x2="316.09999999999997" y2="83.68" stroke="#000" stroke-width="1"/>
<line x1="32.4" y1="76.08" x2="34.8" y2="76.08" stroke="#000" stroke-width="1"/>
<line x1="321.7" y1="76.08" x2="319.3" y2="76.08" stroke="#000" stroke-width="1"/>
<line x1="32.4" y1="71.64" x2="34.8" y2="71.64" stroke="#000" stroke-width="1"/>
<line x1="321.7" y1="71.64" x2="319.3" y2="71.64" stroke="#000" stroke-width="1"/>
<line x1="32.4" y1="68.48" x2="34.8" y2="68.48" stroke="#000" stroke-width="1"/>
<line x1="321.7" y1="68.48" x2="319.3" y2="68.48" stroke="#000" stroke-width="1"/>
<line x1="32.4" y1="66.04" x2="34.8" y2="66.04" stroke="#000" stroke-width="1"/>
<line x1="321.7" y1="66.04" x2="319.3" y2="66.04" stroke="#000" stroke-width="1"/>
<line x1="32.4" y1="64.04" x2="34.8" y2="64.04" stroke="#000" stroke-width="1"/>
<line x1="321.7" y1="64.04" x2="319.3" y2="64.04" stroke="#000" stroke-width="1"/>
<line x1="32.4" y1="62.35" x2="34.8" y2="62.35" stroke="#000" stroke-width="1"/>
<line x1="321.7" y1="62.35" x2="319.3" y2="62.35" stroke="#000" stroke-width="1"/>
<line x1="32.4" y1="60.88" x2="34.8" y2="60.88" stroke="#000" stroke-width="1"/>
<line x1="321.7" y1="60.88" x2="319.3" y2="60.88" stroke="#000" stroke-width="1"/>
<line x1="32.4" y1="59.59" x2="34.8" y2="59.59" stroke="#000" stroke-width="1"/>
<line x1="321.7" y1="59.59" x2="319.3" y2="59.59" stroke="#000" stroke-width="1"/>
<line x1="32.4" y1="58.44" x2="38.0" y2="58.44" stroke="#000" stroke-width="1"/>
<line x1="321.7" y1="58.44" x2="316.09999999999997" y2="58.44" stroke="#000" stroke-width="1"/>
<line x1="32.4" y1="50.84" x2="34.8" y2="50.84" stroke="#000" stroke-width="1"/>
<line x1="321.7" y1="50.84" x2="319.3" y2="50.84" stroke="#000" stroke-width="1"/>
<line x1="32.4" y1="46.39" x2="34.8" y2="46.39" stroke="#000" stroke-width="1"/>
<line x1="321.7" y1="46.39" x2="319.3" y2="46.39" stroke="#000" stroke-width="1"/>
<line x1="32.4" y1="43.24" x2="34.8" y2="43.24" stroke="#000" stroke-width="1"/>
<line x1="321.7" y1="43.24" x2="319.3" y2="43.24" stroke="#000" stroke-width="1"/>
<line x1="32.4" y1="40.79" x2="34.8" y2="40.79" stroke="#000" stroke-width="1"/>
<line x1="321.7" y1="40.79" x2="319.3" y2="40.79" stroke="#000" stroke-width="1"/>
<line x1="32.4" y1="38.79" x2="34.8" y2="38.79" stroke="#000" stroke-width="1"/>
<line x1="321.7" y1="38.79" x2="319.3" y2="38.79" stroke="#000" stroke-width="1"/>
<line x1="32.4" y1="37.10" x2="34.8" y2="37.10" stroke="#000" stroke-width="1"/>
<line x1="321.7" y1="37.10" x2="319.3" y2="37.10" stroke="#000" stroke-width="1"/>
<line x1="32.4" y1="35.64" x2="34.8" y2="35.64" stroke="#000" stroke-width="1"/>
<line x1="321.7" y1="35.64" x2="319.3" y2="35.64" stroke="#000" stroke-width="1"/>
<line x1="32.4" y1="34.35" x2="34.8" y2="34.35" stroke="#000" stroke-width="1"/>
<line x1="321.7" y1="34.35" x2="319.3" y2="34.35" stroke="#000" stroke-width="1"/>
<line x1="32.4" y1="33.19" x2="38.0" y2="33.19" stroke="#000" stroke-width="1"/>
<line x1="321.7" y1="33.19" x2="316.09999999999997" y2="33.19" stroke="#000" stroke-width="1"/>
<line x1="32.4" y1="25.59" x2="34.8" y2="25.59" stroke="#000" stroke-width="1"/>
<line x1="321.7" y1="25.59" x2="319.3" y2="25.59" stroke="#000" stroke-width="1"/>
<line x1="32.4" y1="21.15" x2="34.8" y2="21.15" stroke="#000" stroke-width="1"/>
<line x1="321.7" y1="21.15" x2="319.3" y2="21.15" stroke="#000" stroke-width="1"/>
<line x1="32.4" y1="18.00" x2="34.8" y2="18.00" stroke="#000" stroke-width="1"/>
<line x1="321.7" y1="18.00" x2="319.3" y2="18.00" stroke="#000" stroke-width="1"/>
<line x1="32.4" y1="15.55" x2="34.8" y2="15.55" stroke="#000" stroke-width="1"/>
<line x1="321.7" y1="15.55" x2="319.3" y2="15.55" stroke="#000" stroke-width="1"/>
<line x1="32.4" y1="13.55" x2="34.8" y2="13.55" stroke="#000" stroke-width="1"/>
<line x1="321.7" y1="13.55" x2="319.3" y2="13.55" stroke="#000" stroke-width="1"/>
<line x1="32.4" y1="11.86" x2="34.8" y2="11.86" stroke="#000" stroke-width="1"/>
<line x1="321.7" y1="11.86" x2="319.3" y2="11.86" stroke="#000" stroke-width="1"/>
<line x1="32.4" y1="10.40" x2="34.8" y2="10.40" stroke="#000" stroke-width="1"/>
<line x1="321.7" y1="10.40" x2="319.3" y2="10.40" stroke="#000" stroke-width="1"/>
<line x1="32.4" y1="9.11" x2="34.8" y2="9.11" stroke="#000" stroke-width="1"/>
<line x1="321.7" y1="9.11" x2="319.3" y2="9.11" stroke="#000" stroke-width="1"/>
<path d="M32.4 7.95H321.7" stroke="#3a3a3a" stroke-width="1.05" fill="none"/>
<path d="M32.4 209.9H321.7M32.4 7.45V210.4M321.7 7.45V210.4" stroke="#000" stroke-width="1.05" fill="none"/>
<text transform="translate(32.40,223.9) scale(1.0,1)" font-size="9.5" text-anchor="middle">1000</text>
<text transform="translate(104.72,223.9) scale(1.0,1)" font-size="9.5" text-anchor="middle">1500</text>
<text transform="translate(177.05,223.9) scale(1.0,1)" font-size="9.5" text-anchor="middle">2000</text>
<text transform="translate(249.38,223.9) scale(1.0,1)" font-size="9.5" text-anchor="middle">2500</text>
<text transform="translate(321.70,223.9) scale(1.0,1)" font-size="9.5" text-anchor="middle">3000</text>
<text transform="translate(29.20,215.40) scale(1.0,1)" font-size="9.5" text-anchor="end">10<tspan font-size="6.2" dy="-5.6" dx="1.0">-1</tspan></text>
<text transform="translate(29.20,187.96) scale(1.0,1)" font-size="9.5" text-anchor="end">1</text>
<text transform="translate(29.80,162.71) scale(1.0,1)" font-size="9.5" text-anchor="end">10</text>
<text transform="translate(29.20,139.67) scale(1.0,1)" font-size="9.5" text-anchor="end">10<tspan font-size="6.2" dy="-5.6" dx="1.0">2</tspan></text>
<text transform="translate(29.20,114.43) scale(1.0,1)" font-size="9.5" text-anchor="end">10<tspan font-size="6.2" dy="-5.6" dx="1.0">3</tspan></text>
<text transform="translate(29.20,89.18) scale(1.0,1)" font-size="9.5" text-anchor="end">10<tspan font-size="6.2" dy="-5.6" dx="1.0">4</tspan></text>
<text transform="translate(29.20,63.94) scale(1.0,1)" font-size="9.5" text-anchor="end">10<tspan font-size="6.2" dy="-5.6" dx="1.0">5</tspan></text>
<text transform="translate(29.20,38.69) scale(1.0,1)" font-size="9.5" text-anchor="end">10<tspan font-size="6.2" dy="-5.6" dx="1.0">6</tspan></text>
<text transform="translate(29.20,13.45) scale(1.0,1)" font-size="9.5" text-anchor="end">10<tspan font-size="6.2" dy="-5.6" dx="1.0">7</tspan></text>
<text transform="translate(8.0,109.2) rotate(-90)" font-size="10.2" text-anchor="middle">Events / 100 GeV</text>
<text transform="translate(154.2,237.1) scale(0.9,1)" font-size="9.6" font-style="italic">m</text>
<text x="161.9" y="241.0" font-size="8.0" font-style="italic" style="stroke-width:0.05px">JJ</text>
<text x="172.3" y="237.2" font-size="10">(GeV)</text>
<text x="42.9" y="189.9" font-size="9.9">ATLAS 8 TeV 20.3 fb<tspan font-size="6.0" dy="-5.4" dx="0.3">-1</tspan></text>
<text x="43.2" y="202.3" font-size="8.2" style="fill:#1a1a1a;stroke:#1a1a1a;stroke-width:0.15px">MC prediction</text>
<rect x="220.2" y="22.6" width="82.6" height="54.3" fill="#fff" stroke="#4a4a4a" stroke-width="0.9"/>
<circle cx="228.7" cy="29.0" r="1.5" fill="#ff0000"/>
<text x="238.8" y="31.4" font-size="8.2">no boson tagging</text>
<circle cx="228.7" cy="38.7" r="1.5" fill="#0000ff"/>
<text x="238.8" y="41.1" font-size="8.2">no mass cut</text>
<circle cx="228.7" cy="48.1" r="1.5" fill="#008c00"/>
<text x="238.8" y="50.2" font-size="8.2">no sqrt(y)</text>
<circle cx="228.7" cy="59.5" r="1.5" fill="#ff00ff"/>
<text x="238.8" y="61.0" font-size="8.2">no N<tspan font-size="5.8" dy="3.0">trk</tspan></text>
<circle cx="228.7" cy="70.8" r="1.5" fill="#000000"/>
<text x="238.8" y="72.4" font-size="8.2">WZ tagging</text>
<clipPath id="clip1"><rect x="384.4" y="7.95" width="288.20000000000005" height="201.95000000000002"/></clipPath>
<g clip-path="url(#clip1)">
<line x1="388.60" y1="54.40" x2="394.60" y2="54.40" stroke="#ff0000" stroke-width="1.50"/><circle cx="391.60" cy="54.40" r="1.65" fill="#ff0000"/>
<line x1="403.01" y1="59.60" x2="409.01" y2="59.60" stroke="#ff0000" stroke-width="1.50"/><circle cx="406.01" cy="59.60" r="1.65" fill="#ff0000"/>
<line x1="417.42" y1="65.00" x2="423.42" y2="65.00" stroke="#ff0000" stroke-width="1.50"/><circle cx="420.42" cy="65.00" r="1.65" fill="#ff0000"/>
<line x1="431.83" y1="70.20" x2="437.83" y2="70.20" stroke="#ff0000" stroke-width="1.50"/><circle cx="434.83" cy="70.20" r="1.65" fill="#ff0000"/>
<line x1="446.25" y1="75.80" x2="452.25" y2="75.80" stroke="#ff0000" stroke-width="1.50"/><circle cx="449.25" cy="75.80" r="1.65" fill="#ff0000"/>
<line x1="460.65" y1="81.00" x2="466.65" y2="81.00" stroke="#ff0000" stroke-width="1.50"/><circle cx="463.65" cy="81.00" r="1.65" fill="#ff0000"/>
<line x1="475.06" y1="85.40" x2="481.06" y2="85.40" stroke="#ff0000" stroke-width="1.50"/><circle cx="478.06" cy="85.40" r="1.65" fill="#ff0000"/>
<line x1="489.48" y1="90.10" x2="495.48" y2="90.10" stroke="#ff0000" stroke-width="1.50"/><circle cx="492.48" cy="90.10" r="1.65" fill="#ff0000"/>
<line x1="503.88" y1="94.10" x2="509.88" y2="94.10" stroke="#ff0000" stroke-width="1.50"/><circle cx="506.88" cy="94.10" r="1.65" fill="#ff0000"/>
<line x1="518.29" y1="98.30" x2="524.29" y2="98.30" stroke="#ff0000" stroke-width="1.50"/><circle cx="521.29" cy="98.30" r="1.65" fill="#ff0000"/>
<line x1="532.71" y1="102.50" x2="538.71" y2="102.50" stroke="#ff0000" stroke-width="1.50"/><circle cx="535.71" cy="102.50" r="1.65" fill="#ff0000"/>
<line x1="547.12" y1="106.20" x2="553.12" y2="106.20" stroke="#ff0000" stroke-width="1.50"/><circle cx="550.12" cy="106.20" r="1.65" fill="#ff0000"/>
<line x1="561.52" y1="109.90" x2="567.52" y2="109.90" stroke="#ff0000" stroke-width="1.50"/><circle cx="564.52" cy="109.90" r="1.65" fill="#ff0000"/>
<line x1="575.94" y1="113.60" x2="581.94" y2="113.60" stroke="#ff0000" stroke-width="1.50"/><circle cx="578.94" cy="113.60" r="1.65" fill="#ff0000"/>
<line x1="590.35" y1="117.10" x2="596.35" y2="117.10" stroke="#ff0000" stroke-width="1.50"/><circle cx="593.35" cy="117.10" r="1.65" fill="#ff0000"/>
<line x1="604.75" y1="120.60" x2="610.75" y2="120.60" stroke="#ff0000" stroke-width="1.50"/><circle cx="607.75" cy="120.60" r="1.65" fill="#ff0000"/>
<line x1="619.16" y1="124.00" x2="625.16" y2="124.00" stroke="#ff0000" stroke-width="1.50"/><circle cx="622.16" cy="124.00" r="1.65" fill="#ff0000"/>
<line x1="633.58" y1="127.20" x2="639.58" y2="127.20" stroke="#ff0000" stroke-width="1.50"/><circle cx="636.58" cy="127.20" r="1.65" fill="#ff0000"/>
<line x1="647.99" y1="130.10" x2="653.99" y2="130.10" stroke="#ff0000" stroke-width="1.50"/><circle cx="650.99" cy="130.10" r="1.65" fill="#ff0000"/>
<line x1="662.39" y1="133.30" x2="668.39" y2="133.30" stroke="#ff0000" stroke-width="1.50"/><circle cx="665.39" cy="133.30" r="1.65" fill="#ff0000"/>
<line x1="388.60" y1="103.60" x2="394.60" y2="103.60" stroke="#0000ff" stroke-width="1.70"/><circle cx="391.60" cy="103.60" r="1.65" fill="#0000ff"/>
<line x1="403.01" y1="107.30" x2="409.01" y2="107.30" stroke="#0000ff" stroke-width="1.70"/><circle cx="406.01" cy="107.30" r="1.65" fill="#0000ff"/>
<line x1="417.42" y1="113.30" x2="423.42" y2="113.30" stroke="#0000ff" stroke-width="1.70"/><circle cx="420.42" cy="113.30" r="1.65" fill="#0000ff"/>
<line x1="431.83" y1="117.20" x2="437.83" y2="117.20" stroke="#0000ff" stroke-width="1.70"/><circle cx="434.83" cy="117.20" r="1.65" fill="#0000ff"/>
<line x1="446.25" y1="123.30" x2="452.25" y2="123.30" stroke="#0000ff" stroke-width="1.70"/><circle cx="449.25" cy="123.30" r="1.65" fill="#0000ff"/>
<line x1="460.65" y1="125.80" x2="466.65" y2="125.80" stroke="#0000ff" stroke-width="1.70"/><circle cx="463.65" cy="125.80" r="1.65" fill="#0000ff"/>
<line x1="475.06" y1="129.30" x2="481.06" y2="129.30" stroke="#0000ff" stroke-width="1.70"/><circle cx="478.06" cy="129.30" r="1.65" fill="#0000ff"/>
<line x1="489.48" y1="133.70" x2="495.48" y2="133.70" stroke="#0000ff" stroke-width="1.70"/><circle cx="492.48" cy="133.70" r="1.65" fill="#0000ff"/>
<line x1="503.88" y1="136.70" x2="509.88" y2="136.70" stroke="#0000ff" stroke-width="1.70"/><circle cx="506.88" cy="136.70" r="1.65" fill="#0000ff"/>
<line x1="518.29" y1="140.10" x2="524.29" y2="140.10" stroke="#0000ff" stroke-width="1.70"/><circle cx="521.29" cy="140.10" r="1.65" fill="#0000ff"/>
<line x1="532.71" y1="143.30" x2="538.71" y2="143.30" stroke="#0000ff" stroke-width="1.70"/><circle cx="535.71" cy="143.30" r="1.65" fill="#0000ff"/>
<line x1="547.12" y1="146.80" x2="553.12" y2="146.80" stroke="#0000ff" stroke-width="1.70"/><circle cx="550.12" cy="146.80" r="1.65" fill="#0000ff"/>
<line x1="561.52" y1="149.90" x2="567.52" y2="149.90" stroke="#0000ff" stroke-width="1.70"/><circle cx="564.52" cy="149.90" r="1.65" fill="#0000ff"/>
<line x1="575.94" y1="153.10" x2="581.94" y2="153.10" stroke="#0000ff" stroke-width="1.70"/><circle cx="578.94" cy="153.10" r="1.65" fill="#0000ff"/>
<line x1="590.35" y1="156.00" x2="596.35" y2="156.00" stroke="#0000ff" stroke-width="1.70"/><circle cx="593.35" cy="156.00" r="1.65" fill="#0000ff"/>
<line x1="604.75" y1="159.00" x2="610.75" y2="159.00" stroke="#0000ff" stroke-width="1.70"/><circle cx="607.75" cy="159.00" r="1.65" fill="#0000ff"/>
<line x1="619.16" y1="162.20" x2="625.16" y2="162.20" stroke="#0000ff" stroke-width="1.70"/><circle cx="622.16" cy="162.20" r="1.65" fill="#0000ff"/>
<line x1="633.58" y1="165.40" x2="639.58" y2="165.40" stroke="#0000ff" stroke-width="1.70"/><circle cx="636.58" cy="165.40" r="1.65" fill="#0000ff"/>
<line x1="647.99" y1="167.60" x2="653.99" y2="167.60" stroke="#0000ff" stroke-width="1.70"/><circle cx="650.99" cy="167.60" r="1.65" fill="#0000ff"/>
<line x1="662.39" y1="170.90" x2="668.39" y2="170.90" stroke="#0000ff" stroke-width="1.70"/><circle cx="665.39" cy="170.90" r="1.65" fill="#0000ff"/>
<line x1="388.60" y1="111.80" x2="394.60" y2="111.80" stroke="#008c00" stroke-width="1.90"/><circle cx="391.60" cy="111.80" r="1.65" fill="#008c00"/>
<line x1="403.01" y1="117.70" x2="409.01" y2="117.70" stroke="#008c00" stroke-width="1.90"/><circle cx="406.01" cy="117.70" r="1.65" fill="#008c00"/>
<line x1="417.42" y1="125.10" x2="423.42" y2="125.10" stroke="#008c00" stroke-width="1.90"/><circle cx="420.42" cy="125.10" r="1.65" fill="#008c00"/>
<line x1="431.83" y1="130.80" x2="437.83" y2="130.80" stroke="#008c00" stroke-width="1.90"/><circle cx="434.83" cy="130.80" r="1.65" fill="#008c00"/>
<line x1="446.25" y1="138.10" x2="452.25" y2="138.10" stroke="#008c00" stroke-width="1.90"/><circle cx="449.25" cy="138.10" r="1.65" fill="#008c00"/>
<line x1="460.65" y1="142.60" x2="466.65" y2="142.60" stroke="#008c00" stroke-width="1.90"/><circle cx="463.65" cy="142.60" r="1.65" fill="#008c00"/>
<line x1="475.06" y1="147.50" x2="481.06" y2="147.50" stroke="#008c00" stroke-width="1.90"/><circle cx="478.06" cy="147.50" r="1.65" fill="#008c00"/>
<line x1="489.48" y1="152.50" x2="495.48" y2="152.50" stroke="#008c00" stroke-width="1.90"/><circle cx="492.48" cy="152.50" r="1.65" fill="#008c00"/>
<line x1="503.88" y1="155.20" x2="509.88" y2="155.20" stroke="#008c00" stroke-width="1.90"/><circle cx="506.88" cy="155.20" r="1.65" fill="#008c00"/>
<line x1="518.29" y1="158.40" x2="524.29" y2="158.40" stroke="#008c00" stroke-width="1.90"/><circle cx="521.29" cy="158.40" r="1.65" fill="#008c00"/>
<line x1="532.71" y1="161.40" x2="538.71" y2="161.40" stroke="#008c00" stroke-width="1.90"/><circle cx="535.71" cy="161.40" r="1.65" fill="#008c00"/>
<line x1="547.12" y1="164.60" x2="553.12" y2="164.60" stroke="#008c00" stroke-width="1.90"/><circle cx="550.12" cy="164.60" r="1.65" fill="#008c00"/>
<line x1="561.52" y1="166.40" x2="567.52" y2="166.40" stroke="#008c00" stroke-width="1.90"/><circle cx="564.52" cy="166.40" r="1.65" fill="#008c00"/>
<line x1="575.94" y1="169.90" x2="581.94" y2="169.90" stroke="#008c00" stroke-width="1.90"/><circle cx="578.94" cy="169.90" r="1.65" fill="#008c00"/>
<line x1="590.35" y1="171.90" x2="596.35" y2="171.90" stroke="#008c00" stroke-width="1.90"/><circle cx="593.35" cy="171.90" r="1.65" fill="#008c00"/>
<line x1="604.75" y1="174.90" x2="610.75" y2="174.90" stroke="#008c00" stroke-width="1.90"/><circle cx="607.75" cy="174.90" r="1.65" fill="#008c00"/>
<line x1="619.16" y1="178.20" x2="625.16" y2="178.20" stroke="#008c00" stroke-width="1.90"/><circle cx="622.16" cy="178.20" r="1.65" fill="#008c00"/>
<line x1="633.58" y1="180.50" x2="639.58" y2="180.50" stroke="#008c00" stroke-width="1.90"/><circle cx="636.58" cy="180.50" r="1.65" fill="#008c00"/>
<line x1="647.99" y1="182.70" x2="653.99" y2="182.70" stroke="#008c00" stroke-width="1.90"/><circle cx="650.99" cy="182.70" r="1.65" fill="#008c00"/>
<line x1="662.39" y1="185.50" x2="668.39" y2="185.50" stroke="#008c00" stroke-width="1.90"/><circle cx="665.39" cy="185.50" r="1.65" fill="#008c00"/>
<path d="M388.60 135.70H394.60M388.60 138.30H394.60M391.60 135.70V138.30" stroke="#ff00ff" stroke-width="0.9" fill="none"/><line x1="391.60" y1="136.10" x2="391.60" y2="137.90" stroke="#ff00ff" stroke-width="1.6"/><circle cx="391.60" cy="137.00" r="1.65" fill="#ff00ff"/>
<path d="M403.01 139.20H409.01M403.01 141.20H409.01M406.01 139.20V141.20" stroke="#ff00ff" stroke-width="0.9" fill="none"/><line x1="406.01" y1="139.60" x2="406.01" y2="140.80" stroke="#ff00ff" stroke-width="1.6"/><circle cx="406.01" cy="140.20" r="1.65" fill="#ff00ff"/>
<path d="M417.42 144.80H423.42M417.42 146.40H423.42M420.42 144.80V146.40" stroke="#ff00ff" stroke-width="0.9" fill="none"/><line x1="420.42" y1="145.20" x2="420.42" y2="146.00" stroke="#ff00ff" stroke-width="1.6"/><circle cx="420.42" cy="145.60" r="1.65" fill="#ff00ff"/>
<path d="M431.83 146.90H437.83M431.83 149.10H437.83M434.83 146.90V149.10" stroke="#ff00ff" stroke-width="0.9" fill="none"/><line x1="434.83" y1="147.30" x2="434.83" y2="148.70" stroke="#ff00ff" stroke-width="1.6"/><circle cx="434.83" cy="148.00" r="1.65" fill="#ff00ff"/>
<path d="M446.25 155.00H452.25M446.25 157.00H452.25M449.25 155.00V157.00" stroke="#ff00ff" stroke-width="0.9" fill="none"/><line x1="449.25" y1="155.40" x2="449.25" y2="156.60" stroke="#ff00ff" stroke-width="1.6"/><circle cx="449.25" cy="156.00" r="1.65" fill="#ff00ff"/>
<path d="M460.65 157.00H466.65M460.65 159.20H466.65M463.65 157.00V159.20" stroke="#ff00ff" stroke-width="0.9" fill="none"/><line x1="463.65" y1="157.40" x2="463.65" y2="158.80" stroke="#ff00ff" stroke-width="1.6"/><circle cx="463.65" cy="158.10" r="1.65" fill="#ff00ff"/>
<path d="M475.06 161.30H481.06M475.06 163.30H481.06M478.06 161.30V163.30" stroke="#ff00ff" stroke-width="0.9" fill="none"/><line x1="478.06" y1="161.70" x2="478.06" y2="162.90" stroke="#ff00ff" stroke-width="1.6"/><circle cx="478.06" cy="162.30" r="1.65" fill="#ff00ff"/>
<path d="M489.48 163.50H495.48M489.48 165.30H495.48M492.48 163.50V165.30" stroke="#ff00ff" stroke-width="0.9" fill="none"/><line x1="492.48" y1="163.90" x2="492.48" y2="164.90" stroke="#ff00ff" stroke-width="1.6"/><circle cx="492.48" cy="164.40" r="1.65" fill="#ff00ff"/>
<path d="M503.88 164.80H509.88M503.88 166.20H509.88M506.88 164.80V166.20" stroke="#ff00ff" stroke-width="0.9" fill="none"/><line x1="506.88" y1="165.20" x2="506.88" y2="165.80" stroke="#ff00ff" stroke-width="1.6"/><circle cx="506.88" cy="165.50" r="1.65" fill="#ff00ff"/>
<path d="M518.29 167.30H524.29M518.29 168.70H524.29M521.29 167.30V168.70" stroke="#ff00ff" stroke-width="0.9" fill="none"/><line x1="521.29" y1="167.70" x2="521.29" y2="168.30" stroke="#ff00ff" stroke-width="1.6"/><circle cx="521.29" cy="168.00" r="1.65" fill="#ff00ff"/>
<line x1="532.71" y1="169.00" x2="538.71" y2="169.00" stroke="#ff00ff" stroke-width="2.00"/><circle cx="535.71" cy="169.00" r="1.65" fill="#ff00ff"/>
<line x1="547.12" y1="170.20" x2="553.12" y2="170.20" stroke="#ff00ff" stroke-width="2.00"/><circle cx="550.12" cy="170.20" r="1.65" fill="#ff00ff"/>
<line x1="561.52" y1="171.40" x2="567.52" y2="171.40" stroke="#ff00ff" stroke-width="2.00"/><circle cx="564.52" cy="171.40" r="1.65" fill="#ff00ff"/>
<line x1="575.94" y1="172.80" x2="581.94" y2="172.80" stroke="#ff00ff" stroke-width="2.00"/><circle cx="578.94" cy="172.80" r="1.65" fill="#ff00ff"/>
<line x1="590.35" y1="174.80" x2="596.35" y2="174.80" stroke="#ff00ff" stroke-width="2.00"/><circle cx="593.35" cy="174.80" r="1.65" fill="#ff00ff"/>
<line x1="604.75" y1="176.40" x2="610.75" y2="176.40" stroke="#ff00ff" stroke-width="2.00"/><circle cx="607.75" cy="176.40" r="1.65" fill="#ff00ff"/>
<line x1="619.16" y1="177.70" x2="625.16" y2="177.70" stroke="#ff00ff" stroke-width="2.00"/><circle cx="622.16" cy="177.70" r="1.65" fill="#ff00ff"/>
<line x1="633.58" y1="180.10" x2="639.58" y2="180.10" stroke="#ff00ff" stroke-width="2.00"/><circle cx="636.58" cy="180.10" r="1.65" fill="#ff00ff"/>
<line x1="647.99" y1="181.80" x2="653.99" y2="181.80" stroke="#ff00ff" stroke-width="2.00"/><circle cx="650.99" cy="181.80" r="1.65" fill="#ff00ff"/>
<line x1="662.39" y1="184.30" x2="668.39" y2="184.30" stroke="#ff00ff" stroke-width="2.00"/><circle cx="665.39" cy="184.30" r="1.65" fill="#ff00ff"/>
<path d="M388.60 145.30H394.60M388.60 149.30H394.60M391.60 145.30V149.30" stroke="#000000" stroke-width="0.9" fill="none"/><line x1="391.60" y1="145.70" x2="391.60" y2="148.90" stroke="#000000" stroke-width="1.6"/><circle cx="391.60" cy="147.30" r="1.65" fill="#000000"/>
<path d="M403.01 146.40H409.01M403.01 150.40H409.01M406.01 146.40V150.40" stroke="#000000" stroke-width="0.9" fill="none"/><line x1="406.01" y1="146.80" x2="406.01" y2="150.00" stroke="#000000" stroke-width="1.6"/><circle cx="406.01" cy="148.40" r="1.65" fill="#000000"/>
<path d="M417.42 156.40H423.42M417.42 160.40H423.42M420.42 156.40V160.40" stroke="#000000" stroke-width="0.9" fill="none"/><line x1="420.42" y1="156.80" x2="420.42" y2="160.00" stroke="#000000" stroke-width="1.6"/><circle cx="420.42" cy="158.40" r="1.65" fill="#000000"/>
<path d="M431.83 157.40H437.83M431.83 161.40H437.83M434.83 157.40V161.40" stroke="#000000" stroke-width="0.9" fill="none"/><line x1="434.83" y1="157.80" x2="434.83" y2="161.00" stroke="#000000" stroke-width="1.6"/><circle cx="434.83" cy="159.40" r="1.65" fill="#000000"/>
<path d="M446.25 167.50H452.25M446.25 171.50H452.25M449.25 167.50V171.50" stroke="#000000" stroke-width="0.9" fill="none"/><line x1="449.25" y1="167.90" x2="449.25" y2="171.10" stroke="#000000" stroke-width="1.6"/><circle cx="449.25" cy="169.50" r="1.65" fill="#000000"/>
<path d="M460.65 170.10H466.65M460.65 173.10H466.65M463.65 170.10V173.10" stroke="#000000" stroke-width="0.9" fill="none"/><line x1="463.65" y1="170.50" x2="463.65" y2="172.70" stroke="#000000" stroke-width="1.6"/><circle cx="463.65" cy="171.60" r="1.65" fill="#000000"/>
<path d="M475.06 172.30H481.06M475.06 175.90H481.06M478.06 172.30V175.90" stroke="#000000" stroke-width="0.9" fill="none"/><line x1="478.06" y1="172.70" x2="478.06" y2="175.50" stroke="#000000" stroke-width="1.6"/><circle cx="478.06" cy="174.10" r="1.65" fill="#000000"/>
<path d="M489.48 177.90H495.48M489.48 181.10H495.48M492.48 177.90V181.10" stroke="#000000" stroke-width="0.9" fill="none"/><line x1="492.48" y1="178.30" x2="492.48" y2="180.70" stroke="#000000" stroke-width="1.6"/><circle cx="492.48" cy="179.50" r="1.65" fill="#000000"/>
<path d="M503.88 175.80H509.88M503.88 178.60H509.88M506.88 175.80V178.60" stroke="#000000" stroke-width="0.9" fill="none"/><line x1="506.88" y1="176.20" x2="506.88" y2="178.20" stroke="#000000" stroke-width="1.6"/><circle cx="506.88" cy="177.20" r="1.65" fill="#000000"/>
<path d="M518.29 178.30H524.29M518.29 180.90H524.29M521.29 178.30V180.90" stroke="#000000" stroke-width="0.9" fill="none"/><line x1="521.29" y1="178.70" x2="521.29" y2="180.50" stroke="#000000" stroke-width="1.6"/><circle cx="521.29" cy="179.60" r="1.65" fill="#000000"/>
<path d="M532.71 180.30H538.71M532.71 181.90H538.71M535.71 180.30V181.90" stroke="#000000" stroke-width="0.9" fill="none"/><line x1="535.71" y1="180.70" x2="535.71" y2="181.50" stroke="#000000" stroke-width="1.6"/><circle cx="535.71" cy="181.10" r="1.65" fill="#000000"/>
<line x1="547.12" y1="182.10" x2="553.12" y2="182.10" stroke="#000000" stroke-width="2.00"/><circle cx="550.12" cy="182.10" r="1.65" fill="#000000"/>
<line x1="561.52" y1="182.50" x2="567.52" y2="182.50" stroke="#000000" stroke-width="2.00"/><circle cx="564.52" cy="182.50" r="1.65" fill="#000000"/>
<line x1="575.94" y1="185.20" x2="581.94" y2="185.20" stroke="#000000" stroke-width="2.00"/><circle cx="578.94" cy="185.20" r="1.65" fill="#000000"/>
<line x1="590.35" y1="186.40" x2="596.35" y2="186.40" stroke="#000000" stroke-width="2.00"/><circle cx="593.35" cy="186.40" r="1.65" fill="#000000"/>
<line x1="604.75" y1="187.70" x2="610.75" y2="187.70" stroke="#000000" stroke-width="2.00"/><circle cx="607.75" cy="187.70" r="1.65" fill="#000000"/>
<line x1="619.16" y1="188.80" x2="625.16" y2="188.80" stroke="#000000" stroke-width="2.00"/><circle cx="622.16" cy="188.80" r="1.65" fill="#000000"/>
<line x1="633.58" y1="190.70" x2="639.58" y2="190.70" stroke="#000000" stroke-width="2.00"/><circle cx="636.58" cy="190.70" r="1.65" fill="#000000"/>
<line x1="647.99" y1="192.90" x2="653.99" y2="192.90" stroke="#000000" stroke-width="2.00"/><circle cx="650.99" cy="192.90" r="1.65" fill="#000000"/>
<line x1="662.39" y1="195.80" x2="668.39" y2="195.80" stroke="#000000" stroke-width="2.00"/><circle cx="665.39" cy="195.80" r="1.65" fill="#000000"/>
</g>
<line x1="384.40" y1="209.9" x2="384.40" y2="204.9" stroke="#000" stroke-width="1"/>
<line x1="384.40" y1="7.95" x2="384.40" y2="12.95" stroke="#000" stroke-width="1"/>
<line x1="398.81" y1="209.9" x2="398.81" y2="207.6" stroke="#000" stroke-width="1"/>
<line x1="398.81" y1="7.95" x2="398.81" y2="10.25" stroke="#000" stroke-width="1"/>
<line x1="413.22" y1="209.9" x2="413.22" y2="207.6" stroke="#000" stroke-width="1"/>
<line x1="413.22" y1="7.95" x2="413.22" y2="10.25" stroke="#000" stroke-width="1"/>
<line x1="427.63" y1="209.9" x2="427.63" y2="207.6" stroke="#000" stroke-width="1"/>
<line x1="427.63" y1="7.95" x2="427.63" y2="10.25" stroke="#000" stroke-width="1"/>
<line x1="442.04" y1="209.9" x2="442.04" y2="207.6" stroke="#000" stroke-width="1"/>
<line x1="442.04" y1="7.95" x2="442.04" y2="10.25" stroke="#000" stroke-width="1"/>
<line x1="456.45" y1="209.9" x2="456.45" y2="204.9" stroke="#000" stroke-width="1"/>
<line x1="456.45" y1="7.95" x2="456.45" y2="12.95" stroke="#000" stroke-width="1"/>
<line x1="470.86" y1="209.9" x2="470.86" y2="207.6" stroke="#000" stroke-width="1"/>
<line x1="470.86" y1="7.95" x2="470.86" y2="10.25" stroke="#000" stroke-width="1"/>
<line x1="485.27" y1="209.9" x2="485.27" y2="207.6" stroke="#000" stroke-width="1"/>
<line x1="485.27" y1="7.95" x2="485.27" y2="10.25" stroke="#000" stroke-width="1"/>
<line x1="499.68" y1="209.9" x2="499.68" y2="207.6" stroke="#000" stroke-width="1"/>
<line x1="499.68" y1="7.95" x2="499.68" y2="10.25" stroke="#000" stroke-width="1"/>
<line x1="514.09" y1="209.9" x2="514.09" y2="207.6" stroke="#000" stroke-width="1"/>
<line x1="514.09" y1="7.95" x2="514.09" y2="10.25" stroke="#000" stroke-width="1"/>
<line x1="528.50" y1="209.9" x2="528.50" y2="204.9" stroke="#000" stroke-width="1"/>
<line x1="528.50" y1="7.95" x2="528.50" y2="12.95" stroke="#000" stroke-width="1"/>
<line x1="542.91" y1="209.9" x2="542.91" y2="207.6" stroke="#000" stroke-width="1"/>
<line x1="542.91" y1="7.95" x2="542.91" y2="10.25" stroke="#000" stroke-width="1"/>
<line x1="557.32" y1="209.9" x2="557.32" y2="207.6" stroke="#000" stroke-width="1"/>
<line x1="557.32" y1="7.95" x2="557.32" y2="10.25" stroke="#000" stroke-width="1"/>
<line x1="571.73" y1="209.9" x2="571.73" y2="207.6" stroke="#000" stroke-width="1"/>
<line x1="571.73" y1="7.95" x2="571.73" y2="10.25" stroke="#000" stroke-width="1"/>
<line x1="586.14" y1="209.9" x2="586.14" y2="207.6" stroke="#000" stroke-width="1"/>
<line x1="586.14" y1="7.95" x2="586.14" y2="10.25" stroke="#000" stroke-width="1"/>
<line x1="600.55" y1="209.9" x2="600.55" y2="204.9" stroke="#000" stroke-width="1"/>
<line x1="600.55" y1="7.95" x2="600.55" y2="12.95" stroke="#000" stroke-width="1"/>
<line x1="614.96" y1="209.9" x2="614.96" y2="207.6" stroke="#000" stroke-width="1"/>
<line x1="614.96" y1="7.95" x2="614.96" y2="10.25" stroke="#000" stroke-width="1"/>
<line x1="629.37" y1="209.9" x2="629.37" y2="207.6" stroke="#000" stroke-width="1"/>
<line x1="629.37" y1="7.95" x2="629.37" y2="10.25" stroke="#000" stroke-width="1"/>
<line x1="643.78" y1="209.9" x2="643.78" y2="207.6" stroke="#000" stroke-width="1"/>
<line x1="643.78" y1="7.95" x2="643.78" y2="10.25" stroke="#000" stroke-width="1"/>
<line x1="658.19" y1="209.9" x2="658.19" y2="207.6" stroke="#000" stroke-width="1"/>
<line x1="658.19" y1="7.95" x2="658.19" y2="10.25" stroke="#000" stroke-width="1"/>
<line x1="672.60" y1="209.9" x2="672.60" y2="204.9" stroke="#000" stroke-width="1"/>
<line x1="672.60" y1="7.95" x2="672.60" y2="12.95" stroke="#000" stroke-width="1"/>
<line x1="384.4" y1="209.90" x2="390.0" y2="209.90" stroke="#000" stroke-width="1"/>
<line x1="672.6" y1="209.90" x2="667.0" y2="209.90" stroke="#000" stroke-width="1"/>
<line x1="384.4" y1="202.30" x2="386.79999999999995" y2="202.30" stroke="#000" stroke-width="1"/>
<line x1="672.6" y1="202.30" x2="670.2" y2="202.30" stroke="#000" stroke-width="1"/>
<line x1="384.4" y1="197.86" x2="386.79999999999995" y2="197.86" stroke="#000" stroke-width="1"/>
<line x1="672.6" y1="197.86" x2="670.2" y2="197.86" stroke="#000" stroke-width="1"/>
<line x1="384.4" y1="194.70" x2="386.79999999999995" y2="194.70" stroke="#000" stroke-width="1"/>
<line x1="672.6" y1="194.70" x2="670.2" y2="194.70" stroke="#000" stroke-width="1"/>
<line x1="384.4" y1="192.26" x2="386.79999999999995" y2="192.26" stroke="#000" stroke-width="1"/>
<line x1="672.6" y1="192.26" x2="670.2" y2="192.26" stroke="#000" stroke-width="1"/>
<line x1="384.4" y1="190.26" x2="386.79999999999995" y2="190.26" stroke="#000" stroke-width="1"/>
<line x1="672.6" y1="190.26" x2="670.2" y2="190.26" stroke="#000" stroke-width="1"/>
<line x1="384.4" y1="188.57" x2="386.79999999999995" y2="188.57" stroke="#000" stroke-width="1"/>
<line x1="672.6" y1="188.57" x2="670.2" y2="188.57" stroke="#000" stroke-width="1"/>
<line x1="384.4" y1="187.10" x2="386.79999999999995" y2="187.10" stroke="#000" stroke-width="1"/>
<line x1="672.6" y1="187.10" x2="670.2" y2="187.10" stroke="#000" stroke-width="1"/>
<line x1="384.4" y1="185.81" x2="386.79999999999995" y2="185.81" stroke="#000" stroke-width="1"/>
<line x1="672.6" y1="185.81" x2="670.2" y2="185.81" stroke="#000" stroke-width="1"/>
<line x1="384.4" y1="184.66" x2="390.0" y2="184.66" stroke="#000" stroke-width="1"/>
<line x1="672.6" y1="184.66" x2="667.0" y2="184.66" stroke="#000" stroke-width="1"/>
<line x1="384.4" y1="177.06" x2="386.79999999999995" y2="177.06" stroke="#000" stroke-width="1"/>
<line x1="672.6" y1="177.06" x2="670.2" y2="177.06" stroke="#000" stroke-width="1"/>
<line x1="384.4" y1="172.61" x2="386.79999999999995" y2="172.61" stroke="#000" stroke-width="1"/>
<line x1="672.6" y1="172.61" x2="670.2" y2="172.61" stroke="#000" stroke-width="1"/>
<line x1="384.4" y1="169.46" x2="386.79999999999995" y2="169.46" stroke="#000" stroke-width="1"/>
<line x1="672.6" y1="169.46" x2="670.2" y2="169.46" stroke="#000" stroke-width="1"/>
<line x1="384.4" y1="167.01" x2="386.79999999999995" y2="167.01" stroke="#000" stroke-width="1"/>
<line x1="672.6" y1="167.01" x2="670.2" y2="167.01" stroke="#000" stroke-width="1"/>
<line x1="384.4" y1="165.01" x2="386.79999999999995" y2="165.01" stroke="#000" stroke-width="1"/>
<line x1="672.6" y1="165.01" x2="670.2" y2="165.01" stroke="#000" stroke-width="1"/>
<line x1="384.4" y1="163.32" x2="386.79999999999995" y2="163.32" stroke="#000" stroke-width="1"/>
<line x1="672.6" y1="163.32" x2="670.2" y2="163.32" stroke="#000" stroke-width="1"/>
<line x1="384.4" y1="161.86" x2="386.79999999999995" y2="161.86" stroke="#000" stroke-width="1"/>
<line x1="672.6" y1="161.86" x2="670.2" y2="161.86" stroke="#000" stroke-width="1"/>
<line x1="384.4" y1="160.57" x2="386.79999999999995" y2="160.57" stroke="#000" stroke-width="1"/>
<line x1="672.6" y1="160.57" x2="670.2" y2="160.57" stroke="#000" stroke-width="1"/>
<line x1="384.4" y1="159.41" x2="390.0" y2="159.41" stroke="#000" stroke-width="1"/>
<line x1="672.6" y1="159.41" x2="667.0" y2="159.41" stroke="#000" stroke-width="1"/>
<line x1="384.4" y1="151.81" x2="386.79999999999995" y2="151.81" stroke="#000" stroke-width="1"/>
<line x1="672.6" y1="151.81" x2="670.2" y2="151.81" stroke="#000" stroke-width="1"/>
<line x1="384.4" y1="147.37" x2="386.79999999999995" y2="147.37" stroke="#000" stroke-width="1"/>
<line x1="672.6" y1="147.37" x2="670.2" y2="147.37" stroke="#000" stroke-width="1"/>
<line x1="384.4" y1="144.21" x2="386.79999999999995" y2="144.21" stroke="#000" stroke-width="1"/>
<line x1="672.6" y1="144.21" x2="670.2" y2="144.21" stroke="#000" stroke-width="1"/>
<line x1="384.4" y1="141.77" x2="386.79999999999995" y2="141.77" stroke="#000" stroke-width="1"/>
<line x1="672.6" y1="141.77" x2="670.2" y2="141.77" stroke="#000" stroke-width="1"/>
<line x1="384.4" y1="139.77" x2="386.79999999999995" y2="139.77" stroke="#000" stroke-width="1"/>
<line x1="672.6" y1="139.77" x2="670.2" y2="139.77" stroke="#000" stroke-width="1"/>
<line x1="384.4" y1="138.08" x2="386.79999999999995" y2="138.08" stroke="#000" stroke-width="1"/>
<line x1="672.6" y1="138.08" x2="670.2" y2="138.08" stroke="#000" stroke-width="1"/>
<line x1="384.4" y1="136.62" x2="386.79999999999995" y2="136.62" stroke="#000" stroke-width="1"/>
<line x1="672.6" y1="136.62" x2="670.2" y2="136.62" stroke="#000" stroke-width="1"/>
<line x1="384.4" y1="135.32" x2="386.79999999999995" y2="135.32" stroke="#000" stroke-width="1"/>
<line x1="672.6" y1="135.32" x2="670.2" y2="135.32" stroke="#000" stroke-width="1"/>
<line x1="384.4" y1="134.17" x2="390.0" y2="134.17" stroke="#000" stroke-width="1"/>
<line x1="672.6" y1="134.17" x2="667.0" y2="134.17" stroke="#000" stroke-width="1"/>
<line x1="384.4" y1="126.57" x2="386.79999999999995" y2="126.57" stroke="#000" stroke-width="1"/>
<line x1="672.6" y1="126.57" x2="670.2" y2="126.57" stroke="#000" stroke-width="1"/>
<line x1="384.4" y1="122.12" x2="386.79999999999995" y2="122.12" stroke="#000" stroke-width="1"/>
<line x1="672.6" y1="122.12" x2="670.2" y2="122.12" stroke="#000" stroke-width="1"/>
<line x1="384.4" y1="118.97" x2="386.79999999999995" y2="118.97" stroke="#000" stroke-width="1"/>
<line x1="672.6" y1="118.97" x2="670.2" y2="118.97" stroke="#000" stroke-width="1"/>
<line x1="384.4" y1="116.52" x2="386.79999999999995" y2="116.52" stroke="#000" stroke-width="1"/>
<line x1="672.6" y1="116.52" x2="670.2" y2="116.52" stroke="#000" stroke-width="1"/>
<line x1="384.4" y1="114.53" x2="386.79999999999995" y2="114.53" stroke="#000" stroke-width="1"/>
<line x1="672.6" y1="114.53" x2="670.2" y2="114.53" stroke="#000" stroke-width="1"/>
<line x1="384.4" y1="112.84" x2="386.79999999999995" y2="112.84" stroke="#000" stroke-width="1"/>
<line x1="672.6" y1="112.84" x2="670.2" y2="112.84" stroke="#000" stroke-width="1"/>
<line x1="384.4" y1="111.37" x2="386.79999999999995" y2="111.37" stroke="#000" stroke-width="1"/>
<line x1="672.6" y1="111.37" x2="670.2" y2="111.37" stroke="#000" stroke-width="1"/>
<line x1="384.4" y1="110.08" x2="386.79999999999995" y2="110.08" stroke="#000" stroke-width="1"/>
<line x1="672.6" y1="110.08" x2="670.2" y2="110.08" stroke="#000" stroke-width="1"/>
<line x1="384.4" y1="108.93" x2="390.0" y2="108.93" stroke="#000" stroke-width="1"/>
<line x1="672.6" y1="108.93" x2="667.0" y2="108.93" stroke="#000" stroke-width="1"/>
<line x1="384.4" y1="101.33" x2="386.79999999999995" y2="101.33" stroke="#000" stroke-width="1"/>
<line x1="672.6" y1="101.33" x2="670.2" y2="101.33" stroke="#000" stroke-width="1"/>
<line x1="384.4" y1="96.88" x2="386.79999999999995" y2="96.88" stroke="#000" stroke-width="1"/>
<line x1="672.6" y1="96.88" x2="670.2" y2="96.88" stroke="#000" stroke-width="1"/>
<line x1="384.4" y1="93.73" x2="386.79999999999995" y2="93.73" stroke="#000" stroke-width="1"/>
<line x1="672.6" y1="93.73" x2="670.2" y2="93.73" stroke="#000" stroke-width="1"/>
<line x1="384.4" y1="91.28" x2="386.79999999999995" y2="91.28" stroke="#000" stroke-width="1"/>
<line x1="672.6" y1="91.28" x2="670.2" y2="91.28" stroke="#000" stroke-width="1"/>
<line x1="384.4" y1="89.28" x2="386.79999999999995" y2="89.28" stroke="#000" stroke-width="1"/>
<line x1="672.6" y1="89.28" x2="670.2" y2="89.28" stroke="#000" stroke-width="1"/>
<line x1="384.4" y1="87.59" x2="386.79999999999995" y2="87.59" stroke="#000" stroke-width="1"/>
<line x1="672.6" y1="87.59" x2="670.2" y2="87.59" stroke="#000" stroke-width="1"/>
<line x1="384.4" y1="86.13" x2="386.79999999999995" y2="86.13" stroke="#000" stroke-width="1"/>
<line x1="672.6" y1="86.13" x2="670.2" y2="86.13" stroke="#000" stroke-width="1"/>
<line x1="384.4" y1="84.84" x2="386.79999999999995" y2="84.84" stroke="#000" stroke-width="1"/>
<line x1="672.6" y1="84.84" x2="670.2" y2="84.84" stroke="#000" stroke-width="1"/>
<line x1="384.4" y1="83.68" x2="390.0" y2="83.68" stroke="#000" stroke-width="1"/>
<line x1="672.6" y1="83.68" x2="667.0" y2="83.68" stroke="#000" stroke-width="1"/>
<line x1="384.4" y1="76.08" x2="386.79999999999995" y2="76.08" stroke="#000" stroke-width="1"/>
<line x1="672.6" y1="76.08" x2="670.2" y2="76.08" stroke="#000" stroke-width="1"/>
<line x1="384.4" y1="71.64" x2="386.79999999999995" y2="71.64" stroke="#000" stroke-width="1"/>
<line x1="672.6" y1="71.64" x2="670.2" y2="71.64" stroke="#000" stroke-width="1"/>
<line x1="384.4" y1="68.48" x2="386.79999999999995" y2="68.48" stroke="#000" stroke-width="1"/>
<line x1="672.6" y1="68.48" x2="670.2" y2="68.48" stroke="#000" stroke-width="1"/>
<line x1="384.4" y1="66.04" x2="386.79999999999995" y2="66.04" stroke="#000" stroke-width="1"/>
<line x1="672.6" y1="66.04" x2="670.2" y2="66.04" stroke="#000" stroke-width="1"/>
<line x1="384.4" y1="64.04" x2="386.79999999999995" y2="64.04" stroke="#000" stroke-width="1"/>
<line x1="672.6" y1="64.04" x2="670.2" y2="64.04" stroke="#000" stroke-width="1"/>
<line x1="384.4" y1="62.35" x2="386.79999999999995" y2="62.35" stroke="#000" stroke-width="1"/>
<line x1="672.6" y1="62.35" x2="670.2" y2="62.35" stroke="#000" stroke-width="1"/>
<line x1="384.4" y1="60.88" x2="386.79999999999995" y2="60.88" stroke="#000" stroke-width="1"/>
<line x1="672.6" y1="60.88" x2="670.2" y2="60.88" stroke="#000" stroke-width="1"/>
<line x1="384.4" y1="59.59" x2="386.79999999999995" y2="59.59" stroke="#000" stroke-width="1"/>
<line x1="672.6" y1="59.59" x2="670.2" y2="59.59" stroke="#000" stroke-width="1"/>
<line x1="384.4" y1="58.44" x2="390.0" y2="58.44" stroke="#000" stroke-width="1"/>
<line x1="672.6" y1="58.44" x2="667.0" y2="58.44" stroke="#000" stroke-width="1"/>
<line x1="384.4" y1="50.84" x2="386.79999999999995" y2="50.84" stroke="#000" stroke-width="1"/>
<line x1="672.6" y1="50.84" x2="670.2" y2="50.84" stroke="#000" stroke-width="1"/>
<line x1="384.4" y1="46.39" x2="386.79999999999995" y2="46.39" stroke="#000" stroke-width="1"/>
<line x1="672.6" y1="46.39" x2="670.2" y2="46.39" stroke="#000" stroke-width="1"/>
<line x1="384.4" y1="43.24" x2="386.79999999999995" y2="43.24" stroke="#000" stroke-width="1"/>
<line x1="672.6" y1="43.24" x2="670.2" y2="43.24" stroke="#000" stroke-width="1"/>
<line x1="384.4" y1="40.79" x2="386.79999999999995" y2="40.79" stroke="#000" stroke-width="1"/>
<line x1="672.6" y1="40.79" x2="670.2" y2="40.79" stroke="#000" stroke-width="1"/>
<line x1="384.4" y1="38.79" x2="386.79999999999995" y2="38.79" stroke="#000" stroke-width="1"/>
<line x1="672.6" y1="38.79" x2="670.2" y2="38.79" stroke="#000" stroke-width="1"/>
<line x1="384.4" y1="37.10" x2="386.79999999999995" y2="37.10" stroke="#000" stroke-width="1"/>
<line x1="672.6" y1="37.10" x2="670.2" y2="37.10" stroke="#000" stroke-width="1"/>
<line x1="384.4" y1="35.64" x2="386.79999999999995" y2="35.64" stroke="#000" stroke-width="1"/>
<line x1="672.6" y1="35.64" x2="670.2" y2="35.64" stroke="#000" stroke-width="1"/>
<line x1="384.4" y1="34.35" x2="386.79999999999995" y2="34.35" stroke="#000" stroke-width="1"/>
<line x1="672.6" y1="34.35" x2="670.2" y2="34.35" stroke="#000" stroke-width="1"/>
<line x1="384.4" y1="33.19" x2="390.0" y2="33.19" stroke="#000" stroke-width="1"/>
<line x1="672.6" y1="33.19" x2="667.0" y2="33.19" stroke="#000" stroke-width="1"/>
<line x1="384.4" y1="25.59" x2="386.79999999999995" y2="25.59" stroke="#000" stroke-width="1"/>
<line x1="672.6" y1="25.59" x2="670.2" y2="25.59" stroke="#000" stroke-width="1"/>
<line x1="384.4" y1="21.15" x2="386.79999999999995" y2="21.15" stroke="#000" stroke-width="1"/>
<line x1="672.6" y1="21.15" x2="670.2" y2="21.15" stroke="#000" stroke-width="1"/>
<line x1="384.4" y1="18.00" x2="386.79999999999995" y2="18.00" stroke="#000" stroke-width="1"/>
<line x1="672.6" y1="18.00" x2="670.2" y2="18.00" stroke="#000" stroke-width="1"/>
<line x1="384.4" y1="15.55" x2="386.79999999999995" y2="15.55" stroke="#000" stroke-width="1"/>
<line x1="672.6" y1="15.55" x2="670.2" y2="15.55" stroke="#000" stroke-width="1"/>
<line x1="384.4" y1="13.55" x2="386.79999999999995" y2="13.55" stroke="#000" stroke-width="1"/>
<line x1="672.6" y1="13.55" x2="670.2" y2="13.55" stroke="#000" stroke-width="1"/>
<line x1="384.4" y1="11.86" x2="386.79999999999995" y2="11.86" stroke="#000" stroke-width="1"/>
<line x1="672.6" y1="11.86" x2="670.2" y2="11.86" stroke="#000" stroke-width="1"/>
<line x1="384.4" y1="10.40" x2="386.79999999999995" y2="10.40" stroke="#000" stroke-width="1"/>
<line x1="672.6" y1="10.40" x2="670.2" y2="10.40" stroke="#000" stroke-width="1"/>
<line x1="384.4" y1="9.11" x2="386.79999999999995" y2="9.11" stroke="#000" stroke-width="1"/>
<line x1="672.6" y1="9.11" x2="670.2" y2="9.11" stroke="#000" stroke-width="1"/>
<path d="M384.4 7.95H672.6" stroke="#3a3a3a" stroke-width="1.05" fill="none"/>
<path d="M384.4 209.9H672.6M384.4 7.45V210.4M672.6 7.45V210.4" stroke="#000" stroke-width="1.05" fill="none"/>
<text transform="translate(384.40,223.9) scale(1.0,1)" font-size="9.5" text-anchor="middle">1000</text>
<text transform="translate(456.45,223.9) scale(1.0,1)" font-size="9.5" text-anchor="middle">1500</text>
<text transform="translate(528.50,223.9) scale(1.0,1)" font-size="9.5" text-anchor="middle">2000</text>
<text transform="translate(600.55,223.9) scale(1.0,1)" font-size="9.5" text-anchor="middle">2500</text>
<text transform="translate(672.60,223.9) scale(1.0,1)" font-size="9.5" text-anchor="middle">3000</text>
<text transform="translate(381.20,215.40) scale(1.0,1)" font-size="9.5" text-anchor="end">10<tspan font-size="6.2" dy="-5.6" dx="1.0">-1</tspan></text>
<text transform="translate(381.20,187.96) scale(1.0,1)" font-size="9.5" text-anchor="end">1</text>
<text transform="translate(381.80,162.71) scale(1.0,1)" font-size="9.5" text-anchor="end">10</text>
<text transform="translate(381.20,139.67) scale(1.0,1)" font-size="9.5" text-anchor="end">10<tspan font-size="6.2" dy="-5.6" dx="1.0">2</tspan></text>
<text transform="translate(381.20,114.43) scale(1.0,1)" font-size="9.5" text-anchor="end">10<tspan font-size="6.2" dy="-5.6" dx="1.0">3</tspan></text>
<text transform="translate(381.20,89.18) scale(1.0,1)" font-size="9.5" text-anchor="end">10<tspan font-size="6.2" dy="-5.6" dx="1.0">4</tspan></text>
<text transform="translate(381.20,63.94) scale(1.0,1)" font-size="9.5" text-anchor="end">10<tspan font-size="6.2" dy="-5.6" dx="1.0">5</tspan></text>
<text transform="translate(381.20,38.69) scale(1.0,1)" font-size="9.5" text-anchor="end">10<tspan font-size="6.2" dy="-5.6" dx="1.0">6</tspan></text>
<text transform="translate(381.20,13.45) scale(1.0,1)" font-size="9.5" text-anchor="end">10<tspan font-size="6.2" dy="-5.6" dx="1.0">7</tspan></text>
<text transform="translate(360.6,109.2) rotate(-90)" font-size="10.2" text-anchor="middle">Events / 100 GeV</text>
<text transform="translate(506.2,237.1) scale(0.9,1)" font-size="9.6" font-style="italic">m</text>
<text x="513.9" y="241.0" font-size="8.0" font-style="italic" style="stroke-width:0.05px">JJ</text>
<text x="524.3" y="237.2" font-size="10">(GeV)</text>
<text x="393.0" y="190.5" font-size="9.9">ATLAS 13 TeV 3.2 fb<tspan font-size="6.0" dy="-5.4" dx="0.3">-1</tspan></text>
<text x="393.3" y="202.9" font-size="8.2" style="fill:#1a1a1a;stroke:#1a1a1a;stroke-width:0.15px">MC prediction</text>
<rect x="572.2" y="22.6" width="82.6" height="55.8" fill="#fff" stroke="#4a4a4a" stroke-width="0.9"/>
<circle cx="580.7" cy="29.1" r="1.5" fill="#ff0000"/>
<text x="590.8" y="31.3" font-size="8.2">no boson tagging</text>
<circle cx="580.7" cy="38.5" r="1.5" fill="#0000ff"/>
<text x="590.8" y="40.8" font-size="8.2">no mass cut</text>
<circle cx="580.7" cy="48.7" r="1.5" fill="#008c00"/>
<text x="590.8" y="50.5" font-size="8.2">no D<tspan font-size="5.8" dy="2.8">2</tspan></text>
<circle cx="580.7" cy="60.7" r="1.5" fill="#ff00ff"/>
<text x="590.8" y="62.2" font-size="8.2">no N<tspan font-size="5.8" dy="3.0">trk</tspan></text>
<circle cx="580.7" cy="71.5" r="1.5" fill="#000000"/>
<text x="590.8" y="73.4" font-size="8.2">WZ tagging</text>
</svg></body></html>
